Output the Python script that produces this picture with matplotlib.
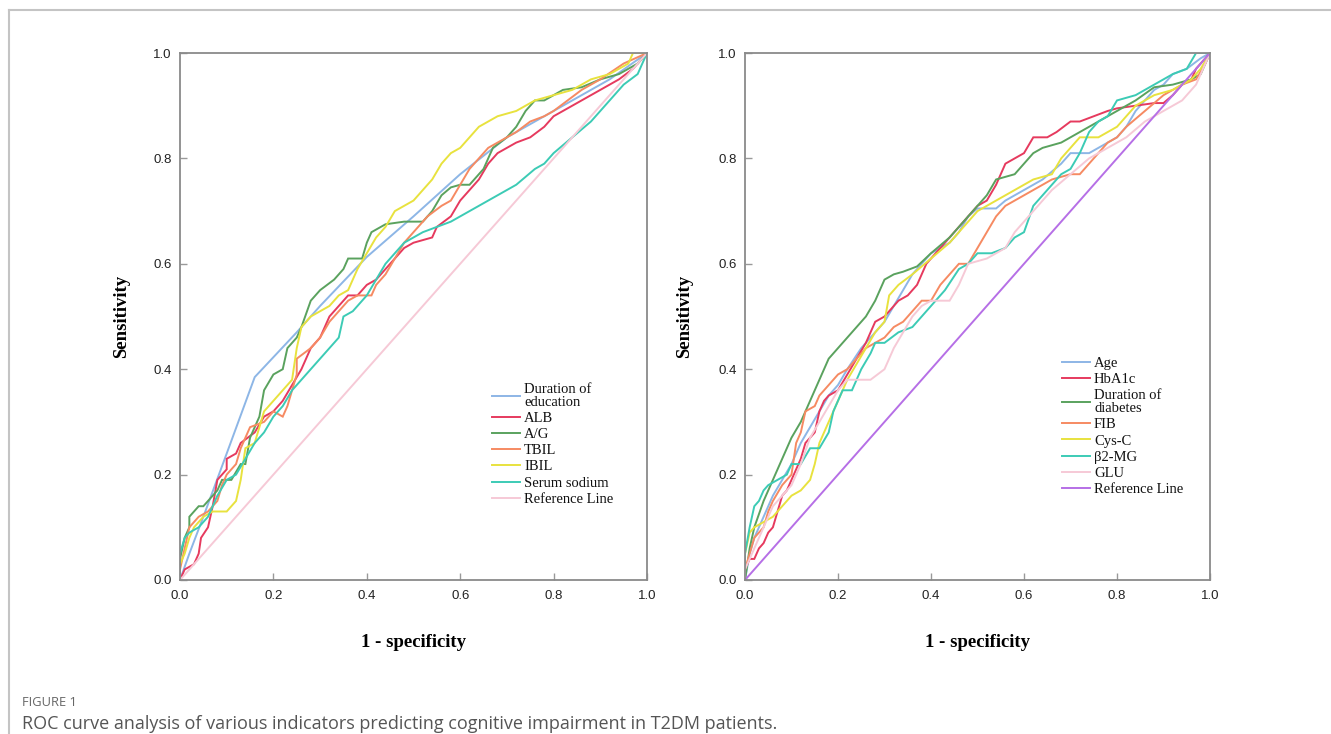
import matplotlib
matplotlib.use("Agg")
import matplotlib.pyplot as plt
from matplotlib.lines import Line2D

# ---------------- data ----------------
# Left panel
edu_x = [0.0, 0.02, 0.05, 0.10, 0.16, 0.25, 0.30, 0.40, 0.50, 0.60, 0.70, 0.80, 0.86, 0.92, 1.0]
edu_y = [0.0, 0.05, 0.12, 0.24, 0.385, 0.47, 0.52, 0.613, 0.69, 0.77, 0.84, 0.89, 0.92, 0.95, 1.0]

alb_x = [0.0, 0.01, 0.03, 0.04, 0.045, 0.06, 0.07, 0.08, 0.10, 0.10, 0.12, 0.13, 0.16, 0.18, 0.20, 0.22, 0.24, 0.26, 0.28, 0.30, 0.32, 0.34, 0.36, 0.38, 0.40, 0.42, 0.44, 0.46, 0.48, 0.50, 0.52, 0.54, 0.55, 0.58, 0.60, 0.62, 0.64, 0.66, 0.68, 0.70, 0.72, 0.75, 0.78, 0.80, 0.84, 0.86, 0.90, 0.94, 0.97, 0.98, 1.0]
alb_y = [0.0, 0.02, 0.03, 0.05, 0.08, 0.10, 0.14, 0.19, 0.21, 0.23, 0.24, 0.26, 0.28, 0.31, 0.32, 0.34, 0.37, 0.40, 0.44, 0.46, 0.50, 0.52, 0.54, 0.54, 0.56, 0.57, 0.59, 0.61, 0.63, 0.64, 0.645, 0.65, 0.67, 0.69, 0.72, 0.74, 0.76, 0.79, 0.81, 0.82, 0.83, 0.84, 0.86, 0.88, 0.90, 0.91, 0.93, 0.95, 0.97, 0.98, 1.0]

ag_x = [0.0, 0.0, 0.01, 0.02, 0.02, 0.04, 0.05, 0.06, 0.08, 0.09, 0.11, 0.13, 0.14, 0.15, 0.17, 0.18, 0.20, 0.22, 0.23, 0.25, 0.26, 0.28, 0.30, 0.33, 0.35, 0.36, 0.39, 0.40, 0.41, 0.44, 0.48, 0.52, 0.54, 0.56, 0.58, 0.60, 0.62, 0.65, 0.67, 0.70, 0.72, 0.74, 0.76, 0.78, 0.82, 0.86, 0.90, 0.94, 0.96, 0.98, 1.0]
ag_y = [0.0, 0.04, 0.08, 0.10, 0.12, 0.14, 0.14, 0.15, 0.17, 0.19, 0.19, 0.22, 0.22, 0.27, 0.31, 0.36, 0.39, 0.40, 0.44, 0.46, 0.48, 0.53, 0.55, 0.57, 0.59, 0.61, 0.61, 0.64, 0.66, 0.675, 0.68, 0.68, 0.70, 0.73, 0.745, 0.75, 0.75, 0.78, 0.82, 0.84, 0.86, 0.89, 0.91, 0.91, 0.93, 0.935, 0.95, 0.96, 0.97, 0.98, 1.0]

tbil_x = [0.0, 0.0, 0.01, 0.02, 0.04, 0.06, 0.08, 0.09, 0.10, 0.12, 0.13, 0.14, 0.15, 0.18, 0.20, 0.22, 0.23, 0.25, 0.25, 0.28, 0.30, 0.32, 0.34, 0.36, 0.38, 0.41, 0.42, 0.44, 0.46, 0.48, 0.50, 0.53, 0.56, 0.58, 0.60, 0.62, 0.64, 0.66, 0.68, 0.70, 0.72, 0.75, 0.78, 0.80, 0.83, 0.86, 0.90, 0.95, 1.0]
tbil_y = [0.0, 0.02, 0.06, 0.10, 0.12, 0.13, 0.15, 0.18, 0.20, 0.22, 0.25, 0.27, 0.29, 0.30, 0.32, 0.31, 0.33, 0.39, 0.42, 0.44, 0.46, 0.49, 0.51, 0.53, 0.54, 0.54, 0.56, 0.58, 0.61, 0.64, 0.66, 0.69, 0.71, 0.72, 0.75, 0.78, 0.80, 0.82, 0.83, 0.84, 0.85, 0.87, 0.88, 0.89, 0.91, 0.93, 0.95, 0.98, 1.0]

ibil_x = [0.0, 0.0, 0.01, 0.02, 0.03, 0.05, 0.07, 0.10, 0.12, 0.13, 0.14, 0.16, 0.18, 0.20, 0.22, 0.24, 0.25, 0.26, 0.28, 0.32, 0.34, 0.36, 0.38, 0.40, 0.42, 0.44, 0.46, 0.48, 0.50, 0.52, 0.54, 0.56, 0.58, 0.60, 0.62, 0.64, 0.66, 0.68, 0.70, 0.72, 0.74, 0.76, 0.80, 0.84, 0.88, 0.92, 0.96, 0.97, 1.0]
ibil_y = [0.0, 0.03, 0.05, 0.08, 0.10, 0.12, 0.13, 0.13, 0.15, 0.19, 0.25, 0.26, 0.32, 0.34, 0.36, 0.38, 0.44, 0.48, 0.50, 0.52, 0.54, 0.55, 0.59, 0.62, 0.65, 0.67, 0.70, 0.71, 0.72, 0.74, 0.76, 0.79, 0.81, 0.82, 0.84, 0.86, 0.87, 0.88, 0.885, 0.89, 0.90, 0.91, 0.92, 0.93, 0.95, 0.96, 0.98, 1.0, 1.0]

na_x = [0.0, 0.0, 0.01, 0.02, 0.04, 0.06, 0.08, 0.10, 0.12, 0.14, 0.16, 0.18, 0.20, 0.22, 0.24, 0.26, 0.28, 0.30, 0.32, 0.34, 0.35, 0.37, 0.40, 0.42, 0.44, 0.46, 0.48, 0.50, 0.52, 0.55, 0.58, 0.60, 0.64, 0.68, 0.72, 0.76, 0.78, 0.80, 0.84, 0.88, 0.92, 0.95, 0.98, 1.0]
na_y = [0.0, 0.05, 0.08, 0.09, 0.10, 0.12, 0.16, 0.19, 0.20, 0.23, 0.26, 0.28, 0.31, 0.33, 0.36, 0.38, 0.40, 0.42, 0.44, 0.46, 0.50, 0.51, 0.54, 0.57, 0.60, 0.62, 0.64, 0.65, 0.66, 0.67, 0.68, 0.69, 0.71, 0.73, 0.75, 0.78, 0.79, 0.81, 0.84, 0.87, 0.91, 0.94, 0.96, 1.0]

left_labels = ["Duration of\neducation", "ALB", "A/G", "TBIL", "IBIL", "Serum sodium", "Reference Line"]

# Right panel
age_x = [0.0, 0.01, 0.02, 0.04, 0.06, 0.08, 0.10, 0.12, 0.14, 0.16, 0.18, 0.20, 0.22, 0.25, 0.28, 0.30, 0.32, 0.34, 0.36, 0.38, 0.40, 0.42, 0.44, 0.46, 0.48, 0.50, 0.54, 0.56, 0.60, 0.64, 0.68, 0.70, 0.74, 0.76, 0.80, 0.82, 0.84, 0.88, 0.90, 0.92, 0.95, 0.98, 1.0]
age_y = [0.0, 0.05, 0.08, 0.12, 0.16, 0.19, 0.22, 0.26, 0.29, 0.32, 0.35, 0.37, 0.40, 0.44, 0.47, 0.49, 0.52, 0.55, 0.58, 0.60, 0.62, 0.63, 0.64, 0.66, 0.69, 0.705, 0.705, 0.72, 0.74, 0.76, 0.79, 0.81, 0.81, 0.82, 0.84, 0.86, 0.89, 0.93, 0.94, 0.96, 0.97, 0.99, 1.0]

hba_x = [0.0, 0.0, 0.01, 0.02, 0.03, 0.04, 0.05, 0.06, 0.07, 0.08, 0.09, 0.10, 0.11, 0.12, 0.13, 0.14, 0.15, 0.16, 0.17, 0.18, 0.20, 0.22, 0.24, 0.26, 0.27, 0.28, 0.30, 0.32, 0.33, 0.35, 0.37, 0.39, 0.42, 0.44, 0.46, 0.48, 0.50, 0.52, 0.54, 0.56, 0.58, 0.60, 0.62, 0.65, 0.67, 0.70, 0.72, 0.75, 0.78, 0.80, 0.84, 0.88, 0.90, 0.92, 0.94, 0.96, 0.97, 0.98, 1.0]
hba_y = [0.0, 0.02, 0.04, 0.04, 0.06, 0.07, 0.09, 0.10, 0.13, 0.16, 0.17, 0.19, 0.21, 0.23, 0.26, 0.27, 0.28, 0.32, 0.34, 0.35, 0.36, 0.39, 0.42, 0.45, 0.47, 0.49, 0.50, 0.52, 0.53, 0.54, 0.56, 0.60, 0.63, 0.65, 0.67, 0.69, 0.71, 0.72, 0.75, 0.79, 0.80, 0.81, 0.84, 0.84, 0.85, 0.87, 0.87, 0.88, 0.89, 0.895, 0.90, 0.905, 0.905, 0.92, 0.94, 0.95, 0.97, 0.98, 1.0]

dia_x = [0.0, 0.01, 0.02, 0.04, 0.06, 0.08, 0.10, 0.12, 0.14, 0.16, 0.18, 0.20, 0.22, 0.24, 0.26, 0.28, 0.30, 0.32, 0.34, 0.37, 0.40, 0.44, 0.48, 0.52, 0.54, 0.58, 0.60, 0.62, 0.64, 0.68, 0.72, 0.76, 0.80, 0.84, 0.88, 0.92, 0.96, 0.98, 0.99, 1.0]
dia_y = [0.0, 0.06, 0.10, 0.15, 0.19, 0.23, 0.27, 0.30, 0.34, 0.38, 0.42, 0.44, 0.46, 0.48, 0.50, 0.53, 0.57, 0.58, 0.585, 0.595, 0.62, 0.65, 0.69, 0.73, 0.76, 0.77, 0.79, 0.81, 0.82, 0.83, 0.85, 0.87, 0.89, 0.91, 0.935, 0.94, 0.95, 0.96, 0.98, 1.0]

fib_x = [0.0, 0.0, 0.01, 0.02, 0.04, 0.05, 0.06, 0.08, 0.10, 0.11, 0.12, 0.13, 0.15, 0.16, 0.18, 0.20, 0.22, 0.24, 0.26, 0.28, 0.30, 0.32, 0.34, 0.36, 0.38, 0.40, 0.42, 0.44, 0.46, 0.48, 0.50, 0.52, 0.54, 0.56, 0.58, 0.62, 0.66, 0.70, 0.72, 0.74, 0.76, 0.78, 0.80, 0.82, 0.86, 0.90, 0.94, 0.97, 0.99, 1.0]
fib_y = [0.0, 0.02, 0.05, 0.08, 0.10, 0.13, 0.15, 0.18, 0.20, 0.26, 0.28, 0.32, 0.33, 0.35, 0.37, 0.39, 0.40, 0.42, 0.44, 0.45, 0.46, 0.48, 0.49, 0.51, 0.53, 0.53, 0.56, 0.58, 0.60, 0.60, 0.63, 0.66, 0.69, 0.71, 0.72, 0.74, 0.76, 0.77, 0.77, 0.79, 0.81, 0.83, 0.84, 0.86, 0.89, 0.92, 0.94, 0.95, 0.98, 1.0]

cys_x = [0.0, 0.0, 0.01, 0.02, 0.04, 0.06, 0.08, 0.10, 0.12, 0.14, 0.15, 0.16, 0.18, 0.20, 0.22, 0.24, 0.26, 0.28, 0.30, 0.31, 0.33, 0.36, 0.40, 0.44, 0.48, 0.50, 0.54, 0.58, 0.62, 0.66, 0.68, 0.70, 0.72, 0.76, 0.80, 0.84, 0.88, 0.92, 0.96, 0.98, 1.0]
cys_y = [0.0, 0.05, 0.09, 0.10, 0.11, 0.12, 0.14, 0.16, 0.17, 0.19, 0.22, 0.26, 0.30, 0.34, 0.38, 0.41, 0.44, 0.47, 0.49, 0.54, 0.56, 0.58, 0.61, 0.64, 0.68, 0.70, 0.72, 0.74, 0.76, 0.77, 0.80, 0.82, 0.84, 0.84, 0.86, 0.90, 0.92, 0.93, 0.95, 0.97, 1.0]

b2m_x = [0.0, 0.0, 0.01, 0.02, 0.03, 0.04, 0.05, 0.07, 0.09, 0.10, 0.12, 0.14, 0.16, 0.18, 0.19, 0.21, 0.23, 0.25, 0.27, 0.28, 0.30, 0.33, 0.36, 0.38, 0.40, 0.43, 0.46, 0.48, 0.50, 0.53, 0.56, 0.58, 0.60, 0.62, 0.64, 0.66, 0.68, 0.70, 0.72, 0.74, 0.76, 0.78, 0.80, 0.84, 0.88, 0.92, 0.95, 0.97, 1.0]
b2m_y = [0.0, 0.05, 0.10, 0.14, 0.15, 0.17, 0.18, 0.19, 0.20, 0.22, 0.22, 0.25, 0.25, 0.28, 0.32, 0.36, 0.36, 0.40, 0.43, 0.45, 0.45, 0.47, 0.48, 0.50, 0.52, 0.55, 0.59, 0.60, 0.62, 0.62, 0.63, 0.65, 0.66, 0.71, 0.73, 0.75, 0.77, 0.78, 0.81, 0.85, 0.87, 0.88, 0.91, 0.92, 0.94, 0.96, 0.97, 1.0, 1.0]

glu_x = [0.0, 0.0, 0.02, 0.04, 0.06, 0.08, 0.10, 0.12, 0.14, 0.16, 0.18, 0.20, 0.22, 0.24, 0.27, 0.30, 0.32, 0.34, 0.36, 0.38, 0.40, 0.44, 0.46, 0.48, 0.52, 0.56, 0.58, 0.60, 0.62, 0.66, 0.70, 0.74, 0.78, 0.82, 0.86, 0.90, 0.94, 0.97, 1.0]
glu_y = [0.0, 0.02, 0.06, 0.10, 0.14, 0.16, 0.18, 0.22, 0.27, 0.30, 0.33, 0.36, 0.38, 0.38, 0.38, 0.40, 0.44, 0.47, 0.50, 0.52, 0.53, 0.53, 0.56, 0.60, 0.61, 0.63, 0.66, 0.68, 0.70, 0.74, 0.77, 0.80, 0.82, 0.84, 0.87, 0.89, 0.91, 0.94, 1.0]

ref_x = [0.0, 1.0]
ref_y = [0.0, 1.0]

right_labels = ["Age", "HbA1c", "Duration of\ndiabetes", "FIB", "Cys-C", "\u03b22-MG", "GLU", "Reference Line"]

x_ticks = [0.0, 0.2, 0.4, 0.6, 0.8, 1.0]
y_ticks = [0.0, 0.2, 0.4, 0.6, 0.8, 1.0]
x_title = "1 - specificity"
y_title = "Sensitivity"
caption_head = "FIGURE 1"
caption_text = "ROC curve analysis of various indicators predicting cognitive impairment in T2DM patients."

# ---------------- colours ----------------
C_BLUE = "#8db6e6"
C_RED = "#e63a5e"
C_GREEN = "#5aa25e"
C_ORANGE = "#f68a62"
C_YELLOW = "#e8e23e"
C_TEAL = "#3ccbb5"
C_PINK = "#f6c9d6"
C_PURPLE = "#b66fe6"

W, H = 1331, 734
fig = plt.figure(figsize=(W / 100, H / 100), dpi=100)
fig.patch.set_facecolor("white")

def px_rect(x0, y0, x1, y1):
    return [x0 / W, 1 - y1 / H, (x1 - x0) / W, (y1 - y0) / H]

axL = fig.add_axes(px_rect(180, 53, 647, 580))
axR = fig.add_axes(px_rect(745, 53, 1210, 580))

lw = 1.4
left_series = [
    (edu_x, edu_y, C_BLUE), (alb_x, alb_y, C_RED), (ag_x, ag_y, C_GREEN),
    (tbil_x, tbil_y, C_ORANGE), (ibil_x, ibil_y, C_YELLOW), (na_x, na_y, C_TEAL),
    (ref_x, ref_y, C_PINK),
]
right_series = [
    (age_x, age_y, C_BLUE), (hba_x, hba_y, C_RED), (dia_x, dia_y, C_GREEN),
    (fib_x, fib_y, C_ORANGE), (cys_x, cys_y, C_YELLOW), (b2m_x, b2m_y, C_TEAL),
    (glu_x, glu_y, C_PINK), (ref_x, ref_y, C_PURPLE),
]

def draw(ax, series, labels, leg_px, ylab_x):
    handles = []
    for (xs, ys, c), lab in zip(series, labels):
        h, = ax.plot(xs, ys, color=c, lw=lw, label=lab, solid_joinstyle="miter")
        handles.append(h)
    ax.set_xlim(0, 1)
    ax.set_ylim(0, 1)
    ax.set_xticks(x_ticks)
    ax.set_yticks(y_ticks)
    ax.set_xticklabels([f"{v:.1f}" for v in x_ticks], family="Liberation Sans", fontsize=9.5, color="#222222")
    ax.set_yticklabels([f"{v:.1f}" for v in y_ticks], family="Liberation Sans", fontsize=9.5, color="#222222")
    ax.tick_params(direction="in", length=5, width=1, color="#999999")
    ax.tick_params(axis="x", pad=7)
    ax.tick_params(axis="y", pad=6)
    for s in ax.spines.values():
        s.set_color("#8a8a8a")
        s.set_linewidth(1.3)
    ax.set_xlabel(x_title, family="Liberation Serif", fontweight="bold", fontsize=13.5)
    ax.set_ylabel(y_title, family="Liberation Serif", fontweight="bold", fontsize=13.5)
    ax.xaxis.set_label_coords(0.5, (580 - 634) / 527)
    ax.yaxis.set_label_coords(ylab_x, 0.5)
    leg = ax.legend(handles=handles, loc="upper left",
                    bbox_to_anchor=(leg_px[0] / W, 1 - leg_px[1] / H),
                    bbox_transform=fig.transFigure,
                    frameon=False, prop={"family": "Liberation Serif", "size": 10.5},
                    labelspacing=0.2, handlelength=1.9, handletextpad=0.3,
                    borderpad=0.0, borderaxespad=0.0)
    for t in leg.get_texts():
        t.set_linespacing(1.0)
        t.set_color("#111111")

draw(axL, left_series, left_labels, (492, 383), (130 - 180) / 467)
draw(axR, right_series, right_labels, (1062, 357), (693 - 745) / 465)

# page frame lines
fig.add_artist(Line2D([9 / W, 1.0], [1 - 10 / H, 1 - 10 / H], transform=fig.transFigure, color="#c4c4c4", lw=1.5))
fig.add_artist(Line2D([9 / W, 9 / W], [1 - 10 / H, 0.0], transform=fig.transFigure, color="#c4c4c4", lw=1.5))

fig.text(22 / W, 1 - 703 / H, caption_head, family="Open Sans", fontsize=9.3, color="#666666", va="center", ha="left")
fig.text(22 / W, 1 - 724 / H, caption_text, family="Open Sans", fontsize=13, color="#555555", va="center", ha="left")

fig.savefig("out.png", dpi=100, facecolor="white")
